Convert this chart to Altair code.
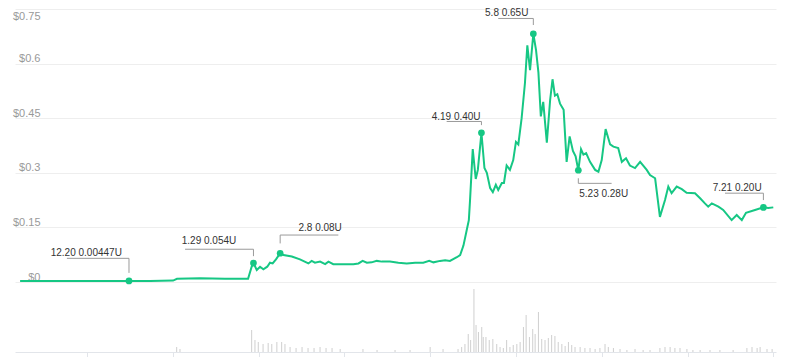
import altair as alt
import pandas as pd

# ---- price series (step index along the time axis, price in USD) ----
step = [0.0, 13.3, 26.7, 36.3, 43.3, 51.0, 52.3, 60.0, 68.3, 76.0,
        77.2, 77.8, 78.9, 80.0, 81.1, 82.4, 83.3, 84.2, 85.3, 86.7,
        87.8, 90.6, 93.3, 96.1, 97.2, 98.3, 100.0, 101.7, 102.8, 104.4,
        107.8, 111.1, 112.8, 114.2, 115.6, 117.2, 118.9, 120.6, 123.3, 126.1,
        128.9, 131.7, 134.4, 136.4, 137.8, 140.0, 141.7, 143.3, 145.6, 146.7,
        147.8, 148.9, 149.6, 150.0, 150.9, 151.9, 152.6, 153.8, 154.8, 155.6,
        156.7, 157.6, 158.6, 159.4, 160.6, 161.3, 162.2, 163.3, 164.4, 165.3,
        166.1, 167.2, 168.3, 169.1, 170.0, 171.1, 172.0, 172.8, 173.6, 174.4,
        175.6, 176.7, 177.5, 178.3, 179.1, 180.0, 181.2, 182.2, 183.2, 184.3,
        185.2, 186.1, 187.0, 187.8, 188.7, 190.0, 191.7, 192.8, 193.9, 195.2,
        196.7, 197.8, 199.4, 200.6, 202.0, 203.3, 205.0, 206.7, 208.9, 210.0,
        211.7, 213.3, 215.0, 216.1, 217.2, 218.9, 220.6, 222.2, 225.0, 226.7,
        228.3, 229.4, 230.6, 232.8, 234.4, 237.2, 238.9, 240.6, 242.0, 245.0,
        247.8, 249.4, 251.1]
price = [0.003, 0.003, 0.003, 0.003, 0.003, 0.004, 0.009, 0.010, 0.009, 0.009,
         0.042, 0.052, 0.033, 0.042, 0.035, 0.042, 0.053, 0.051, 0.062, 0.079,
         0.074, 0.070, 0.062, 0.051, 0.058, 0.053, 0.056, 0.049, 0.056, 0.049,
         0.049, 0.049, 0.051, 0.058, 0.053, 0.054, 0.058, 0.056, 0.056, 0.053,
         0.051, 0.053, 0.053, 0.058, 0.054, 0.058, 0.060, 0.058, 0.068, 0.074,
         0.100, 0.143, 0.170, 0.225, 0.365, 0.283, 0.308, 0.410, 0.313, 0.300,
         0.258, 0.247, 0.267, 0.253, 0.272, 0.272, 0.320, 0.308, 0.335, 0.385,
         0.378, 0.450, 0.546, 0.650, 0.582, 0.682, 0.637, 0.575, 0.455, 0.495,
         0.383, 0.500, 0.557, 0.512, 0.516, 0.490, 0.473, 0.330, 0.400, 0.360,
         0.345, 0.307, 0.365, 0.350, 0.354, 0.330, 0.308, 0.303, 0.335, 0.420,
         0.378, 0.372, 0.368, 0.330, 0.340, 0.320, 0.313, 0.330, 0.308, 0.294,
         0.285, 0.179, 0.225, 0.262, 0.244, 0.262, 0.255, 0.245, 0.244, 0.230,
         0.216, 0.207, 0.216, 0.207, 0.198, 0.170, 0.184, 0.170, 0.190, 0.198,
         0.205, 0.203, 0.205]

# ---- volume series (same step index, volume in arbitrary units) ----
vol_step = [52.2, 53.3, 77.2, 78.3, 79.4, 81.0, 82.7, 83.9, 85.6, 87.2,
            88.3, 90.0, 92.0, 94.0, 96.0, 98.0, 100.0, 102.0, 104.0, 106.7,
            114.3, 119.0, 125.0, 130.0, 136.7, 141.0, 146.0, 147.2, 148.3, 149.4,
            150.2, 151.3, 152.0, 152.8, 153.9, 154.4, 155.3, 156.4, 157.6, 158.9,
            160.0, 161.1, 162.2, 163.3, 164.4, 165.6, 166.7, 167.8, 168.7, 169.8,
            170.9, 171.7, 172.8, 173.9, 175.0, 176.1, 177.2, 178.3, 179.4, 180.6,
            181.7, 182.8, 183.9, 185.0, 186.7, 188.3, 190.0, 191.7, 193.3, 195.0,
            196.1, 197.8, 200.0, 202.3, 205.0, 207.7, 210.0, 213.3, 215.0, 216.7,
            218.3, 220.0, 222.3, 224.3, 226.7, 230.0, 233.3, 237.7, 242.3, 244.0,
            245.7, 246.7, 249.0, 250.7]
volume = [5, 3, 22, 12, 10, 8, 9, 8, 10, 10,
          8, 5, 4, 5, 4, 4, 5, 4, 4, 3,
          3, 2, 2, 2, 5, 3, 3, 5, 8, 18,
          12, 63, 27, 20, 25, 15, 15, 12, 13, 8,
          5, 4, 12, 5, 7, 8, 10, 25, 37, 15,
          23, 18, 40, 13, 12, 14, 17, 16, 10, 8,
          6, 10, 7, 5, 5, 4, 4, 3, 4, 8,
          5, 4, 3, 2, 3, 2, 2, 4, 5, 5,
          4, 4, 3, 2, 2, 2, 2, 2, 4, 5,
          4, 5, 3, 3]

# ---- annotations ----
ann_text = ["12.20 0.00447U", "1.29 0.054U", "2.8 0.08U", "4.19 0.40U",
            "5.8 0.65U", "5.23 0.28U", "7.21 0.20U"]
ann_step = [36.3, 77.8, 86.7, 153.8, 171.1, 186.1, 247.8]
ann_price = [0.003, 0.052, 0.079, 0.410, 0.682, 0.307, 0.205]
lead_level = [0.065, 0.090, 0.129, 0.441, 0.724, 0.271, 0.244]
lead_from = [15.6, 55.0, 86.7, 142.2, 159.4, 186.1, 235.0]
lead_to = [36.3, 77.8, 106.1, 153.8, 171.1, 197.2, 247.8]
lead_stub = [0.025, 0.071, 0.106, 0.431, 0.706, 0.285, 0.225]
label_step = [10.2, 53.9, 92.8, 137.2, 155.0, 186.4, 230.9]
label_price = [0.0714, 0.104, 0.140, 0.446, 0.731, 0.234, 0.251]

y_ticks = [0, 0.15, 0.3, 0.45, 0.6, 0.75]
x_ticks = [22.3, 50.9, 79.5, 108.1, 136.7, 165.3, 193.9, 222.5, 251.1]

GREEN = "#16c784"
FONT = "Liberation Sans"

price_df = pd.DataFrame({"t": step, "price": price})
vol_df = pd.DataFrame({"t": vol_step, "vol": volume})
ann_df = pd.DataFrame({
    "label": ann_text, "at": ann_step, "p": ann_price,
    "level": lead_level, "from": lead_from, "to": lead_to, "stub": lead_stub,
    "lx": label_step, "ly": label_price,
})

xs = alt.Scale(domain=[-1.7, 252.0], nice=False, zero=False)
ys = alt.Scale(domain=[0, 0.75], range=[273, 0], nice=False, zero=False)
vs = alt.Scale(domain=[0, 70], range=[343, 273], nice=False, zero=False)

x_axis = alt.Axis(values=x_ticks, labels=False, grid=False, title=None,
                  domainColor="#e2e5ea", tickColor="#e2e5ea", tickSize=5,
                  domainWidth=1, tickWidth=1)
y_axis = alt.Axis(values=y_ticks, title=None, domain=False, ticks=False, tickSize=0,
                  labelAlign="right", labelPadding=-25, labelBaseline="alphabetic",
                  labelOffset={"condition": {"test": "datum.value > 0.7", "value": 10},
                               "value": -2},
                  labelColor="#999999", labelFontSize=11, labelFont=FONT,
                  labelFlush=False, labelOverlap=False, grid=True, gridColor="#eeeeee",
                  gridWidth=1, labelExpr="'$' + datum.value")


def X(f):
    return alt.X(f"{f}:Q", scale=xs, axis=x_axis)


def Y(f):
    return alt.Y(f"{f}:Q", scale=ys, axis=y_axis)


line = alt.Chart(price_df).mark_line(color=GREEN, strokeWidth=2).encode(
    x=X("t"), y=Y("price"))

hlead = alt.Chart(ann_df).mark_rule(color="#9a9a9a", strokeWidth=1).encode(
    x=X("from"), x2="to", y=Y("level"))
vlead = alt.Chart(ann_df).mark_rule(color="#9a9a9a", strokeWidth=1).encode(
    x=X("at"), y=Y("level"), y2="stub")
pts = alt.Chart(ann_df).mark_circle(color=GREEN, size=45, opacity=1).encode(
    x=X("at"), y=Y("p"))
txt = alt.Chart(ann_df).mark_text(align="left", baseline="alphabetic", fontSize=10,
                                  font=FONT, color="#333333").encode(
    x=X("lx"), y=Y("ly"), text="label:N")

price_group = alt.layer(line, hlead, vlead, pts, txt)

bars = alt.Chart(vol_df).mark_rule(color="#cfcfcf", strokeWidth=1).encode(
    x=X("t"),
    y=alt.Y("vol:Q", scale=vs, axis=None),
    y2=alt.datum(0),
)
volume_group = alt.layer(bars)

chart = alt.layer(volume_group, price_group).resolve_scale(y="independent").properties(
    width=761, height=343,
    autosize=alt.AutoSizeParams(type="none"),
    padding={"left": 7, "top": 1, "right": 16, "bottom": 5},
).configure_view(stroke=None)

chart.save("out.html", embed_options={"renderer": "svg", "actions": False})
